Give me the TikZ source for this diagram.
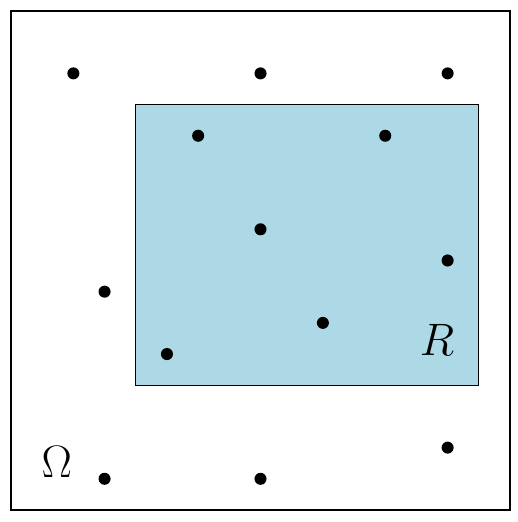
\documentclass[tikz,border=0pt]{standalone}
\definecolor{lightblue}{RGB}{173,216,230}
\begin{document}
\begin{tikzpicture}[x=0.5cm,y=0.5cm,
  dotpt/.style={circle,fill=black,inner sep=0pt,minimum size=5.5pt},
  frame/.style={draw=black,line width=0.5pt}]
\useasboundingbox (-0.353,-0.385) rectangle (16.255,16.353);
\draw[frame] (0,0) rectangle (16,16);
\draw[frame,fill=lightblue] (4,4) rectangle (15,13);
\foreach \n/\p in {a/{(2,14)},b/{(8,14)},c/{(14,14)},d/{(6,12)},e/{(12,12)},f/{(8,9)},g/{(14,8)},h/{(3,7)},i/{(10,6)},j/{(5,5)},k/{(14,2)},l/{(3,1)},m/{(8,1)}}
  \node[dotpt] (\n) at \p {};
\node (omega) at (1.47,1.54) {\huge $\Omega$};
\node (R) at (13.66,5.45) {\huge $R$};
\end{tikzpicture}
\end{document}
